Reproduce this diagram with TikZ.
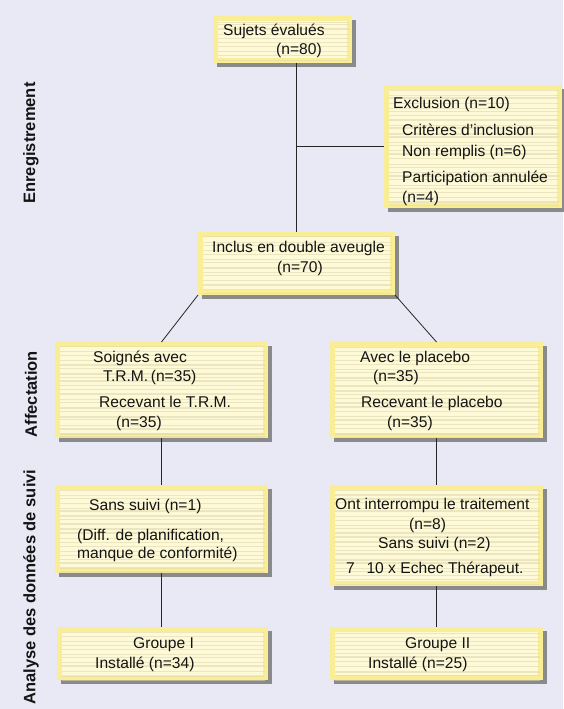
\documentclass[tikz,border=0pt]{standalone}
\usepackage{fontspec}
\setmainfont{Liberation Sans}
\usetikzlibrary{calc,shadows}
\definecolor{bg}{HTML}{E9E9F5}
\definecolor{shadowgray}{HTML}{8A8A8A}
\definecolor{boxborder}{HTML}{F9EE96}
\definecolor{boxinner}{HTML}{FEFAD8}
\definecolor{stripecol}{HTML}{DED7AE}
\definecolor{txt}{HTML}{141414}
\tikzset{
  yellowbox/.style={draw=none, fill=boxborder, inner sep=0pt, outer sep=0pt, anchor=north west,
    general shadow={fill=shadowgray, shadow xshift=4pt, shadow yshift=-4pt},
    path picture={
      \fill[boxinner] ($(path picture bounding box.south west)+(5pt,5pt)$) rectangle ($(path picture bounding box.north east)+(-5pt,-5pt)$);
      \foreach \k in {1,...,30}{
        \pgfmathsetmacro\yy{\k*4.3+2*rnd}
        \pgfmathsetmacro\ww{0.3+1.6*rnd}
        \draw[stripecol, opacity=0.55, line width=\ww pt] ($(path picture bounding box.north west)+(5pt,-\yy pt)$) -- ($(path picture bounding box.north east)+(-3pt,-\yy pt)$);
      }
    }},
  lbl/.style={anchor=base west, inner sep=0pt, text=txt, font=\fontsize{15.6}{18}\selectfont},
  side/.style={rotate=90, inner sep=0pt, text=txt, font=\fontsize{16.5}{19}\selectfont\bfseries},
  conn/.style={draw=black!85, line width=0.8pt}
}
\pgfmathsetseed{7}
\begin{document}
\begin{tikzpicture}[x=1pt,y=-1pt]
\useasboundingbox (0,0) rectangle (563,709);
\fill[bg] (0,0) rectangle (563,709);

% boxes
\node[yellowbox, minimum width=139pt, minimum height=47pt] (suj) at (213,16) {};
\node[yellowbox, minimum width=178pt, minimum height=123pt] (excl) at (384,85) {};
\node[yellowbox, minimum width=197pt, minimum height=63pt] (inc) at (198,232) {};
\node[yellowbox, minimum width=213pt, minimum height=96pt] (soi) at (55,342) {};
\node[yellowbox, minimum width=213pt, minimum height=96pt] (pla) at (330,342) {};
\node[yellowbox, minimum width=213pt, minimum height=88pt] (sans) at (55,485) {};
\node[yellowbox, minimum width=213pt, minimum height=101pt] (ont) at (330,485) {};
\node[yellowbox, minimum width=211pt, minimum height=53pt] (g1) at (57,627) {};
\node[yellowbox, minimum width=213pt, minimum height=53pt] (g2) at (330,627) {};

% connectors
\draw[conn] (suj.south -| inc.north) -- (inc.north);
\draw[conn] (excl.west -| inc.north) -- (excl.west);
\draw[conn] (inc.south west) -- (soi.north);
\draw[conn] (inc.south east) -- (pla.north);
\draw[conn] (soi.south) -- (sans.north);
\draw[conn] (pla.south) -- (ont.north);
\draw[conn] (sans.south) -- (sans.south |- g1.north);
\draw[conn] (ont.south) -- (g2.north);

% texts
\node[lbl] (t1) at (223,36) {Sujets évalués};
\node[lbl] (t2) at (276,55) {(n=80)};

\node[lbl] (t3) at (393,108) {Exclusion (n=10)};
\node[lbl] (t4) at (402,135) {Critères d’inclusion};
\node[lbl] (t5) at (402,156) {Non remplis (n=6)};
\node[lbl] (t6) at (402,182) {Participation annulée};
\node[lbl] (t7) at (402,202) {(n=4)};

\node[lbl] (t8) at (212,252) {Inclus en double aveugle};
\node[lbl] (t9) at (277,272) {(n=70)};

\node[lbl] (t10) at (93,362) {Soignés avec};
\node[lbl] (t11) at (103,381) {T.R.M.\,(n=35)};
\node[lbl] (t12) at (99,407) {Recevant le T.R.M.};
\node[lbl] (t13) at (116,427) {(n=35)};

\node[lbl] (t14) at (360,362) {Avec le placebo};
\node[lbl] (t15) at (373,381) {(n=35)};
\node[lbl] (t16) at (361,407) {Recevant le placebo};
\node[lbl] (t17) at (387,427) {(n=35)};

\node[lbl] (t18) at (89,510) {Sans suivi (n=1)};
\node[lbl] (t19) at (77,540) {(Diff. de planification,};
\node[lbl] (t20) at (77,558) {manque de conformité)};

\node[lbl] (t21) at (335,509) {Ont interrompu le traitement};
\node[lbl] (t22) at (409,529) {(n=8)};
\node[lbl] (t23) at (378,548) {Sans suivi (n=2)};
\node[lbl] (t24) at (346,573) {7\hspace{0.75em}10 x Echec Thérapeut.};

\node[lbl] (t25) at (133,648) {Groupe I};
\node[lbl] (t26) at (95,668) {Installé (n=34)};
\node[lbl] (t27) at (405,648) {Groupe II};
\node[lbl] (t28) at (368,668) {Installé (n=25)};

% side labels
\node[side] (s1) at (31,143) {Enregistrement};
\node[side] (s2) at (31,394) {Affectation};
\node[side] (s3) at (31,587) {Analyse des données de suivi};
\end{tikzpicture}
\end{document}
